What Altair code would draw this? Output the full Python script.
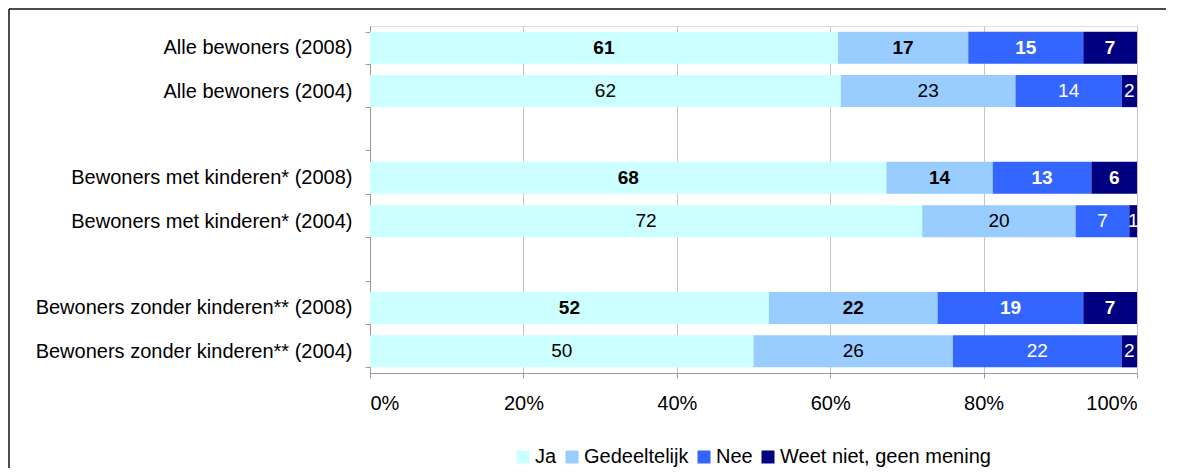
import altair as alt
import pandas as pd

rows = [
    "Alle bewoners (2008)",
    "Alle bewoners (2004)",
    " ",
    "Bewoners met kinderen* (2008)",
    "Bewoners met kinderen* (2004)",
    "  ",
    "Bewoners zonder kinderen** (2008)",
    "Bewoners zonder kinderen** (2004)",
]
groups = [r for r in rows if r.strip()]
answers = ["Ja", "Gedeeltelijk", "Nee", "Weet niet, geen mening"]
ja = [61, 62, 68, 72, 52, 50]
gedeeltelijk = [17, 23, 14, 20, 22, 26]
nee = [15, 14, 13, 7, 19, 22]
weet_niet = [7, 2, 6, 1, 7, 2]
colors = ["#CCFFFF", "#99CCFF", "#3366FF", "#000080"]

records = []
for i, g in enumerate(groups):
    for j, vals in enumerate([ja, gedeeltelijk, nee, weet_niet]):
        records.append({
            "groep": g,
            "antwoord": answers[j],
            "waarde": vals[i],
            "volgorde": j,
            "jaar": "2008" if "2008" in g else "2004",
        })
df = pd.DataFrame(records)

FONT = "Liberation Sans"

yscale = alt.Scale(domain=rows, paddingInner=0.26, paddingOuter=0.13)
xscale = alt.Scale(domain=[0, 1], nice=False)

y_enc = alt.Y(
    "groep:N",
    scale=yscale,
    sort=None,
    axis=alt.Axis(
        title=None,
        tickBand="extent",
        tickSize=5,
        tickColor="#9a9a9a",
        domainColor="#9a9a9a",
        labelFontSize=20,
        labelFont=FONT,
        labelColor="#000000",
        labelPadding=13,
        labelLimit=500,
        grid=False,
    ),
)

base = alt.Chart(df).transform_stack(
    stack="waarde",
    groupby=["groep"],
    sort=[alt.SortField("volgorde", order="ascending")],
    as_=["v0", "v1"],
    offset="normalize",
).transform_calculate(mid="(datum.v0 + datum.v1) / 2")

bars = base.mark_bar().encode(
    y=y_enc,
    x=alt.X(
        "v0:Q",
        scale=xscale,
        axis=alt.Axis(
            title=None,
            format=".0%",
            values=[0, 0.2, 0.4, 0.6, 0.8, 1.0],
            grid=True,
            gridColor="#c4c4c4",
            tickSize=5,
            tickColor="#9a9a9a",
            domainColor="#9a9a9a",
            labelFontSize=20,
            labelFont=FONT,
            labelColor="#000000",
            labelPadding=15,
        ),
    ),
    x2="v1:Q",
    color=alt.Color(
        "antwoord:N",
        scale=alt.Scale(domain=answers, range=colors),
        legend=alt.Legend(
            title=None,
            orient="none",
            legendX=143,
            legendY=421,
            direction="horizontal",
            symbolType="square",
            symbolSize=169,
            symbolStrokeWidth=0,
            labelFontSize=20,
            labelFont=FONT,
            labelColor="#000000",
            labelOffset=2,
            labelLimit=400,
            columnPadding=5,
            padding=0,
        ),
    ),
)

text_color = alt.condition("datum.volgorde >= 2", alt.value("#FFFFFF"), alt.value("#000000"))

labels_2008 = base.transform_filter("datum.jaar == '2008'").mark_text(
    font=FONT, fontSize=19, fontWeight="bold"
).encode(
    y=alt.Y("groep:N", scale=yscale, sort=None),
    x=alt.X("mid:Q", scale=xscale),
    text="waarde:Q",
    color=text_color,
)

labels_2004 = base.transform_filter("datum.jaar == '2004'").mark_text(
    font=FONT, fontSize=19
).encode(
    y=alt.Y("groep:N", scale=yscale, sort=None),
    x=alt.X("mid:Q", scale=xscale),
    text="waarde:Q",
    color=text_color,
)

frame_df = pd.DataFrame({"k": [0]})
frame_left = alt.Chart(frame_df).mark_rule(color="#111111", strokeWidth=1.5).encode(
    x=alt.value(-361), y=alt.value(-17), y2=alt.value(442)
)
frame_top = alt.Chart(frame_df).mark_rule(color="#111111", strokeWidth=1.5).encode(
    x=alt.value(-361), x2=alt.value(796), y=alt.value(-17)
)

chart = alt.layer(frame_left, frame_top, bars, labels_2008, labels_2004).properties(
    width=767,
    height=347,
    padding={"left": 362, "top": 18, "right": 30, "bottom": 96},
    autosize=alt.AutoSizeParams(type="none"),
).configure_view(stroke=None).configure(background="#FFFFFF")

chart.save("out.html", embed_options={"renderer": "svg", "actions": False})
